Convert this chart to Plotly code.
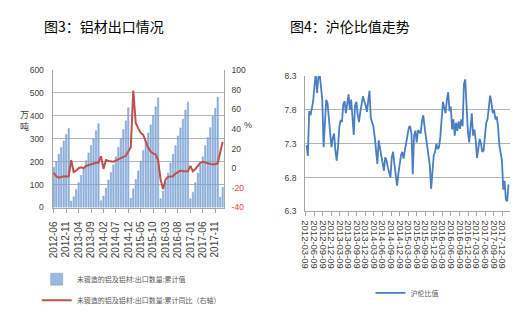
import plotly.graph_objects as go
import pandas as pd

W, H = 531, 322

def px(x):
    return x / W

def py(y):
    return 1 - y / H

# ---------------- Left chart: aluminium exports ----------------
all_months = [f"{y}-{m:02d}" for y in range(2012, 2019) for m in range(1, 13)]
export_months = all_months[all_months.index("2012-06"):all_months.index("2018-02") + 1]

export_cum = [
    175, 200, 232, 262, 290, 318, 345,                              # 2012 Jun-Dec
    28, 47, 78, 108, 140, 170, 205, 238, 270, 300, 335, 365,        # 2013
    30, 50, 85, 120, 153, 186, 221, 262, 300, 340, 378, 435,        # 2014
    40, 82, 122, 160, 203, 249, 290, 325, 360, 401, 439, 478,       # 2015
    38, 72, 110, 150, 194, 232, 270, 312, 347, 385, 425, 460,       # 2016
    38, 66, 108, 150, 186, 221, 270, 305, 348, 397, 432, 481,       # 2017
    45, 88,                                                         # 2018 Jan-Feb
]

export_yoy = [
    -4.8, -8.2, -9.7, -9.2, -8.2, -8.5, -8.2,
    8.3, -3.8, -2.5, 0.0, 0.8, 0.0, 2.3, 3.3, 4.3, 5.0, 5.6, 5.6,
    12.3, -0.7, 8.3, 7.3, 6.6, 6.6, 7.7, 9.3, 10.6, 11.6, 12.6, 16.5,
    21.4, 79.0, 46.0, 40.5, 36.0, 34.0, 28.0, 21.0, 17.0, 15.0, 14.0, 8.3,
    -11.4, -21.3, -11.4, -8.8, -8.5, -8.2, -5.5, -4.0, -2.5, -3.2, -3.5, -3.2,
    2.4, -3.2, -0.8, 2.5, 5.5, 6.6, 5.6, 5.0, 4.3, 4.0, 4.0, 5.0,
    16.5, 27.0,
]

export_ticks = ["2012-06", "2012-11", "2013-04", "2013-09", "2014-02", "2014-07",
                "2014-12", "2015-05", "2015-10", "2016-03", "2016-08", "2017-01",
                "2017-06", "2017-11"]

left_y_ticks = [0, 100, 200, 300, 400, 500, 600]
right_y_ticks = [-40, -20, 0, 20, 40, 60, 80, 100]

# ---------------- Right chart: SHFE/LME ratio ----------------
ratio_values = [
    7.28, 7.12, 7.78, 7.72, 7.82, 7.92, 8.15, 8.33, 8.05, 8.28, 8.33, 8.12,
    7.95, 7.25, 7.70, 7.95, 7.90, 7.70, 7.55, 7.25, 7.38, 7.45, 7.20, 7.05,
    7.25, 7.55, 7.65, 7.62, 7.88, 7.93, 7.75, 7.93, 8.03, 7.80, 7.95, 7.70,
    7.43, 7.87, 7.92, 7.73, 7.62, 7.77, 7.92, 8.00, 7.93, 7.87, 7.77, 7.92,
    8.08, 7.68, 7.60, 7.55, 7.40, 7.13, 7.00, 7.35, 7.22, 7.15, 7.00, 6.90,
    7.10, 7.05, 6.95, 6.85, 6.80, 7.10, 7.18, 7.00,
    6.80, 6.68, 6.85, 7.00, 7.13, 7.18, 7.08, 7.20, 7.30, 7.42, 7.54, 7.56,
    7.45, 6.85, 7.42, 7.49, 7.32, 7.50, 7.48, 7.45, 7.63, 7.72, 7.55, 7.40,
    7.30, 7.18, 6.98, 6.63, 6.90, 7.13, 7.18, 7.30, 7.22, 7.25, 7.40, 7.61,
    7.92, 7.83, 7.75, 7.95, 8.06, 7.78, 7.85, 7.51, 7.66, 7.42, 7.61, 7.49,
    7.63, 7.52, 7.66, 7.56, 8.18, 8.25, 7.85, 7.49, 7.32, 7.61, 7.75, 7.42,
    7.51, 7.35, 7.09, 7.23, 7.37, 7.30, 7.18, 7.20, 7.42, 7.61, 7.66, 7.90,
    8.01, 7.90, 7.75, 7.80, 7.66, 7.70, 7.56, 7.28, 7.13, 7.05, 6.62, 6.75,
    6.47, 6.45, 6.70,
]
ratio_dates = pd.date_range("2012-03-20", periods=len(ratio_values), freq="14D")

ratio_ticks = ["2012-03-09", "2012-06-09", "2012-09-09", "2012-12-09",
               "2013-03-09", "2013-06-09", "2013-09-09", "2013-12-09",
               "2014-03-09", "2014-06-09", "2014-09-09", "2014-12-09",
               "2015-03-09", "2015-06-09", "2015-09-09", "2015-12-09",
               "2016-03-09", "2016-06-09", "2016-09-09", "2016-12-09",
               "2017-03-09", "2017-06-09", "2017-09-09", "2017-12-09"]
ratio_y_ticks = [6.3, 6.8, 7.3, 7.8, 8.3]

# ---------------- styling ----------------
CJK = "Noto Sans CJK SC"
NUM = "Liberation Sans Narrow, Liberation Sans, Arial"
NUMX = "Liberation Sans, Arial"
GRID = "#b3b3b3"
AXIS = "#a6a6a6"
TXT = "#404040"

fig = go.Figure()

fig.add_trace(go.Bar(
    x=export_months, y=export_cum, name="未锻造的铝及铝材:出口数量:累计值",
    marker=dict(color="#9ab8e0", line=dict(color="#5a8ac6", width=0.4)),
    xaxis="x", yaxis="y", legend="legend", legendgroup="a",
))
fig.add_trace(go.Scatter(
    x=export_months, y=export_yoy, name="未锻造的铝及铝材:出口数量:累计同比（右轴）",
    mode="lines", line=dict(color="#c0504d", width=2),
    xaxis="x", yaxis="y2", legend="legend", legendgroup="b",
))
fig.add_trace(go.Scatter(
    x=ratio_dates, y=ratio_values, name="沪伦比值",
    mode="lines", line=dict(color="#4a7ec2", width=1.8),
    xaxis="x3", yaxis="y3", legend="legend2",
))

right_text = [f'<span style="color:#e8403a">{v}</span>' if v < 0 else str(v)
              for v in right_y_ticks]

fig.update_layout(
    width=W, height=H,
    margin=dict(l=0, r=0, t=0, b=0),
    paper_bgcolor="white", plot_bgcolor="white",
    font=dict(family=CJK, color=TXT),
    bargap=0.45,
    xaxis=dict(
        domain=[px(48), px(221)], anchor="y", type="category",
        range=[-0.5, len(export_months) - 0.5],
        tickmode="array", tickvals=export_ticks, ticktext=export_ticks,
        tickangle=-90, ticks="outside", ticklen=4, tickcolor=AXIS,
        tickfont=dict(family=NUMX, size=10, color=TXT),
        showline=True, linecolor=AXIS, linewidth=1, showgrid=False,
        ticklabelstandoff=5,
    ),
    yaxis=dict(
        domain=[py(209), py(67)], anchor="x", range=[0, 600],
        tickmode="array", tickvals=left_y_ticks,
        tickfont=dict(family=NUM, size=8.5, color=TXT),
        showgrid=True, gridcolor=GRID, gridwidth=1,
        showline=True, linecolor=AXIS, zeroline=False, ticklabelstandoff=6,
    ),
    yaxis2=dict(
        overlaying="y", anchor="x", side="right", range=[-40, 100],
        tickmode="array", tickvals=right_y_ticks, ticktext=right_text,
        tickfont=dict(family=NUM, size=8.5, color=TXT),
        showgrid=False, showline=True, linecolor=AXIS, zeroline=False,
        ticklabelstandoff=5,
    ),
    xaxis3=dict(
        domain=[px(303), px(510)], anchor="y3", type="date",
        range=["2012-03-05", "2018-03-03"],
        tickmode="array", tickvals=ratio_ticks, tickformat="%Y-%m-%d",
        tickangle=90, ticks="outside", ticklen=4, tickcolor=AXIS,
        tickfont=dict(family=NUMX, size=9.5, color=TXT),
        showline=True, linecolor=AXIS, showgrid=False,
        ticklabelstandoff=2,
    ),
    yaxis3=dict(
        domain=[py(213), py(73.3)], anchor="x3", range=[6.3, 8.3],
        tickmode="array", tickvals=ratio_y_ticks, tickformat=".1f",
        tickfont=dict(family=NUM, size=8.5, color=TXT),
        showgrid=True, gridcolor=GRID, showline=True, linecolor=AXIS,
        zeroline=False, ticklabelstandoff=6,
    ),
    legend=dict(
        x=px(32), y=py(268), xanchor="left", yanchor="top",
        orientation="v", traceorder="grouped", tracegroupgap=2,
        font=dict(family=CJK, size=7, color="#595959"),
        bgcolor="rgba(0,0,0,0)",
    ),
    legend2=dict(
        x=px(369), y=py(297), xanchor="left", yanchor="middle",
        font=dict(family=CJK, size=7, color="#595959"),
        bgcolor="rgba(0,0,0,0)",
    ),
    annotations=[
        dict(text="图3：铝材出口情况", x=px(37), y=py(21.5), xref="paper", yref="paper",
             xanchor="left", yanchor="middle", showarrow=False,
             font=dict(family=CJK, size=14, color="#000000")),
        dict(text="图4：沪伦比值走势", x=px(286), y=py(21.5), xref="paper", yref="paper",
             xanchor="left", yanchor="middle", showarrow=False,
             font=dict(family=CJK, size=14, color="#000000")),
        dict(text="万<br>吨", x=px(20), y=py(119), xref="paper", yref="paper",
             xanchor="center", yanchor="middle", showarrow=False,
             font=dict(family=CJK, size=9, color=TXT)),
        dict(text="%", x=px(245.5), y=py(123.5), xref="paper", yref="paper",
             xanchor="center", yanchor="middle", showarrow=False,
             font=dict(family=NUM, size=9, color=TXT)),
    ],
)

fig.write_html("out.html")
